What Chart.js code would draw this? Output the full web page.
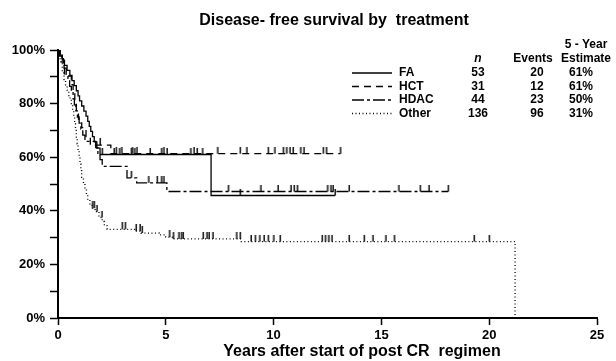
<!DOCTYPE html>
<html lang="en">
<head>
  <meta charset="UTF-8" />
  <title>Disease-free survival by treatment</title>
  <script src="https://cdn.jsdelivr.net/npm/chart.js"></script>
  <style>
    html, body { margin: 0; padding: 0; background: #fff; }
  </style>
</head>
<body>
  <canvas id="chart" width="616" height="361"></canvas>

  <script>
    // legend table
    const groups = ["FA", "HCT", "HDAC", "Other"];
    const nValues = [53, 31, 44, 136];
    const eventCounts = [20, 12, 23, 96];
    const fiveYear = ["61%", "61%", "50%", "31%"];

    // Kaplan-Meier steps: time (years), survival (%)
    const faTimes = [0, 0.1, 0.2, 0.3, 0.42, 0.55, 0.65, 0.75, 0.85, 0.93, 1.0, 1.1, 1.2, 1.3, 1.38, 1.45, 1.52, 1.6, 1.68, 1.8, 1.95, 7.1, 12.85];
    const faSurv  = [100, 98.1, 96.2, 94.3, 92.4, 90.5, 88.6, 86.7, 84.8, 82.9, 81.0, 79.1, 77.2, 75.3, 73.4, 71.5, 69.6, 67.7, 65.7, 63.4, 61.0, 45.7, 45.7];
    const faCensor = [2.05, 2.6, 2.85, 3.4, 3.55, 4.27, 4.8, 5.05, 6.15, 6.45, 6.7, 8.45, 12.85];

    const hctTimes = [0, 0.08, 0.25, 0.3, 0.62, 0.7, 0.78, 0.85, 0.95, 1.1, 1.3, 1.5, 2.45, 13.1];
    const hctSurv  = [100, 96.8, 93.5, 90.3, 87.1, 83.9, 80.6, 77.4, 74.2, 71.0, 67.7, 64.5, 61.3, 61.3];
    const hctCensor = [1.95, 2.7, 2.95, 3.45, 3.65, 4.9, 6.3, 7.4, 8.45, 8.75, 9.75, 10.05, 10.45, 10.6, 10.75, 10.9, 11.25, 11.4, 12.3, 12.45, 13.1];

    const hdacTimes = [0, 0.08, 0.18, 0.28, 0.38, 0.46, 0.54, 0.62, 0.7, 0.76, 0.83, 0.9, 0.98, 1.06, 1.15, 1.25, 1.75, 1.85, 1.95, 2.05, 3.2, 3.65, 5.05, 18.1];
    const hdacSurv  = [100, 97.7, 95.5, 93.2, 90.9, 88.6, 86.4, 84.1, 81.8, 79.5, 77.3, 75.0, 72.7, 70.5, 68.2, 65.9, 63.6, 61.4, 59.1, 56.6, 52.3, 50.4, 47.2, 47.2];
    const hdacCensor = [3.4, 4.2, 4.6, 4.8, 4.9, 7.9, 9.4, 10.2, 10.8, 10.95, 11.1, 12.5, 12.65, 12.75, 13.5, 15.8, 16.8, 17.2, 18.1];

    const otherTimes = [0, 0.05, 0.1, 0.2, 0.28, 0.35, 0.42, 0.5, 0.56, 0.62, 0.68, 0.73, 0.77, 0.81, 0.85, 0.89, 0.93, 0.98, 1.02, 1.06, 1.1, 1.18, 1.25, 1.32, 1.38, 1.48, 1.6, 1.72, 1.9, 2.05, 2.15, 2.28, 3.55, 3.85, 4.7, 5.0, 5.3, 8.5, 21.2];
    const otherSurv  = [100, 97.8, 95.6, 91.5, 89.0, 87.0, 85.0, 83.0, 81.5, 80.0, 77.5, 75.0, 72.5, 70.0, 67.5, 65.0, 62.5, 60.0, 57.5, 55.0, 52.5, 50.0, 48.0, 46.0, 44.0, 42.0, 41.0, 39.7, 37.5, 36.0, 34.5, 33.1, 32.4, 31.7, 31.0, 30.2, 29.5, 28.5, 0];
    const otherCensor = [1.6, 1.68, 1.8, 2.03, 2.98, 3.12, 3.62, 3.8, 3.9, 5.17, 5.35, 5.6, 5.72, 5.8, 6.73, 6.9, 7.0, 7.18, 8.28, 8.45, 8.95, 9.15, 9.35, 9.55, 9.75, 10.0, 10.3, 12.25, 12.4, 12.55, 12.7, 13.5, 14.2, 14.6, 15.2, 15.6, 19.3, 20.0];

    const FONT = '"Liberation Sans", Arial, Helvetica, sans-serif';
    Chart.defaults.font.family = FONT;
    Chart.defaults.color = "#000";

    function toPoints(times, surv) {
      return times.map((t, i) => ({ x: t, y: surv[i] }));
    }

    // survival level at time t (last step at or before t)
    function levelAt(times, surv, t) {
      let s = surv[0];
      for (let i = 0; i < times.length; i++) {
        if (times[i] <= t) s = surv[i];
      }
      return s;
    }

    function censorPoints(cens, times, surv) {
      return cens.map(t => ({ x: t, y: levelAt(times, surv, t) }));
    }

    // small upward tick used for censored cases
    const tick = document.createElement("canvas");
    tick.width = 4;
    tick.height = 14;
    const tctx = tick.getContext("2d");
    tctx.fillStyle = "#000";
    tctx.fillRect(1.5, 0, 1.4, 7);

    const dashes = [[], [7, 5], [12, 3, 3, 3], [1, 2.5]];
    const stepData = [
      toPoints(faTimes, faSurv),
      toPoints(hctTimes, hctSurv),
      toPoints(hdacTimes, hdacSurv),
      toPoints(otherTimes, otherSurv)
    ];
    const censData = [
      censorPoints(faCensor, faTimes, faSurv),
      censorPoints(hctCensor, hctTimes, hctSurv),
      censorPoints(hdacCensor, hdacTimes, hdacSurv),
      censorPoints(otherCensor, otherTimes, otherSurv)
    ];

    const datasets = [];
    groups.forEach((g, i) => {
      datasets.push({
        label: g,
        data: stepData[i],
        borderColor: "#000",
        borderWidth: 1.3,
        borderDash: dashes[i],
        stepped: true,
        pointRadius: 0,
        fill: false
      });
    });
    groups.forEach((g, i) => {
      datasets.push({
        label: g + " censored",
        data: censData[i],
        showLine: false,
        pointStyle: tick,
        pointRadius: 3,
        pointHoverRadius: 3
      });
    });

    // title, x-axis caption and the n / events / estimate table
    const tablePlugin = {
      id: "table",
      afterDraw(chart) {
        const ctx = chart.ctx;
        ctx.save();
        ctx.fillStyle = "#000";
        ctx.textBaseline = "middle";
        ctx.textAlign = "center";

        ctx.font = "bold 16px " + FONT;
        ctx.fillText("Disease- free survival by  treatment", 334, 21);

        ctx.font = "bold 16px " + FONT;
        ctx.fillText("Years after start of post CR  regimen", 362, 352);

        ctx.font = "bold 12px " + FONT;
        ctx.fillText("5 - Year", 586, 45);
        ctx.fillText("Events", 533, 59);
        ctx.fillText("Estimate", 586, 59);
        ctx.font = "italic bold 12px " + FONT;
        ctx.fillText("n", 478, 59);

        const rowY = [73, 86.5, 100, 113.5];
        groups.forEach((g, i) => {
          const y = rowY[i];
          ctx.strokeStyle = "#000";
          ctx.lineWidth = 1.3;
          ctx.setLineDash(dashes[i]);
          ctx.beginPath();
          ctx.moveTo(352, y);
          ctx.lineTo(392, y);
          ctx.stroke();
          ctx.setLineDash([]);

          ctx.font = "bold 12px " + FONT;
          ctx.textAlign = "left";
          ctx.fillText(g, 399, y);
          ctx.textAlign = "center";
          ctx.fillText(String(nValues[i]), 478, y);
          ctx.fillText(String(eventCounts[i]), 537, y);
          ctx.fillText(fiveYear[i], 581, y);
        });
        ctx.restore();
      }
    };

    new Chart(document.getElementById("chart"), {
      type: "line",
      data: { datasets: datasets },
      plugins: [tablePlugin],
      options: {
        responsive: false,
        animation: false,
        layout: { padding: { top: 50, right: 19, left: 0, bottom: 0 } },
        plugins: {
          legend: { display: false },
          tooltip: { enabled: false }
        },
        scales: {
          x: {
            type: "linear",
            min: 0,
            max: 25,
            afterFit: s => { s.height = 43; },
            ticks: {
              stepSize: 5,
              padding: 3,
              font: { weight: "bold", size: 13 },
              color: "#000"
            },
            grid: {
              drawOnChartArea: false,
              drawTicks: true,
              tickLength: 7,
              tickColor: "#000",
              tickWidth: 1.5
            },
            border: { color: "#000", width: 2 }
          },
          y: {
            min: 0,
            max: 100,
            afterFit: s => { s.width = 58; },
            ticks: {
              stepSize: 10,
              padding: 5,
              font: { weight: "bold", size: 13 },
              color: "#000",
              callback: v => (v % 20 === 0 ? v + "%" : "")
            },
            grid: {
              drawOnChartArea: false,
              drawTicks: true,
              tickLength: 8,
              tickColor: "#000",
              tickWidth: 1.5
            },
            border: { color: "#000", width: 2 }
          }
        }
      }
    });
  </script>
</body>
</html>
